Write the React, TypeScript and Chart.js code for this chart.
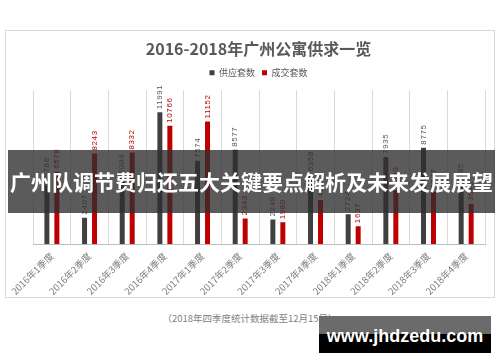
import React, { useEffect, useRef } from "react";
import { Chart, registerables } from "chart.js";

Chart.register(...registerables);

const chartTitle = "2016-2018年广州公寓供求一览";
const categories = [
  "2016年1季度",
  "2016年2季度",
  "2016年3季度",
  "2016年4季度",
  "2017年1季度",
  "2017年2季度",
  "2017年3季度",
  "2017年4季度",
  "2018年1季度",
  "2018年2季度",
  "2018年3季度",
  "2018年4季度",
];
const supplyName = "供应套数";
const dealName = "成交套数";
const supplyValues = [5786, 2407, 6084, 11991, 7574, 8577, 2248, 6358, 2724, 7935, 8775, 5285];
const dealValues = [6578, 8243, 8332, 10766, 11152, 2343, 1980, 4021, 1637, 4930, 4747, 3646];
const yMax = 14000;
const bannerText = "广州队调节费归还五大关键要点解析及未来发展展望";
const footnote = "（2018年四季度统计数据截至12月15日）";
const siteText = "www.jhdzedu.com";

const SUPPLY_COLOR = "#404040";
const DEAL_COLOR = "#c00000";

const valueLabels = {
  id: "valueLabels",
  afterDatasetsDraw(chart: any) {
    const ctx = chart.ctx;
    chart.data.datasets.forEach((ds: any, i: number) => {
      const meta = chart.getDatasetMeta(i);
      meta.data.forEach((el: any, j: number) => {
        const v = ds.data[j];
        ctx.save();
        ctx.translate(el.x, el.y - 3);
        ctx.rotate(-Math.PI / 2);
        ctx.font = "8px 'Liberation Sans', Arial, sans-serif";
        (ctx as any).letterSpacing = "0.6px";
        ctx.fillStyle = ds.labelColor;
        ctx.textAlign = "left";
        ctx.textBaseline = "middle";
        ctx.fillText(String(v), 0, 0);
        ctx.restore();
      });
    });
  },
};

const legendGap = {
  id: "legendGap",
  beforeInit(chart: any) {
    const legend = chart.legend;
    if (!legend) return;
    const fit = legend.fit;
    legend.fit = function () {
      fit.call(this);
      this.height += 3;
    };
  },
};

function BarChart() {
  const ref = useRef<HTMLCanvasElement | null>(null);
  useEffect(() => {
    if (!ref.current) return;
    const chart = new Chart(ref.current, {
      type: "bar",
      data: {
        labels: categories,
        datasets: [
          {
            label: supplyName,
            data: supplyValues,
            backgroundColor: SUPPLY_COLOR,
            labelColor: "#595959",
            categoryPercentage: 0.53,
            barPercentage: 0.5,
          } as any,
          {
            label: dealName,
            data: dealValues,
            backgroundColor: DEAL_COLOR,
            labelColor: "#c00000",
            categoryPercentage: 0.53,
            barPercentage: 0.5,
          } as any,
        ],
      },
      options: {
        animation: false,
        responsive: false,
        maintainAspectRatio: false,
        layout: { padding: { left: 26, right: 9, top: 0, bottom: -6 } },
        plugins: {
          title: {
            display: true,
            text: chartTitle,
            color: "#595959",
            font: { size: 16, weight: "bold", family: "'Noto Sans CJK SC', sans-serif" },
            padding: { top: 8, bottom: 3 },
          },
          legend: {
            display: true,
            position: "top",
            labels: {
              boxWidth: 5,
              boxHeight: 5,
              color: "#595959",
              font: { size: 9, family: "'Noto Sans CJK SC', sans-serif" },
              padding: 7,
            },
          },
          tooltip: { enabled: false },
        },
        scales: {
          x: {
            offset: true,
            grid: { display: true, offset: true, color: "#d9d9d9", drawTicks: false },
            border: { display: true, color: "#bfbfbf" },
            ticks: {
              minRotation: 45,
              maxRotation: 45,
              color: "#7f7f7f",
              padding: 6,
              font: { size: 9.5, family: "'Noto Sans CJK SC', sans-serif" },
            },
          },
          y: { display: false, min: 0, max: yMax },
        },
      },
      plugins: [legendGap, valueLabels],
    });
    return () => chart.destroy();
  }, []);
  return (
    <canvas
      ref={ref}
      width={488}
      height={266}
      style={{ position: "absolute", left: 6, top: 31, width: 488, height: 266 }}
    />
  );
}

export default function App() {
  return (
    <div
      style={{
        position: "absolute",
        left: 0,
        top: 0,
        width: 500,
        height: 362,
        background: "#ffffff",
        overflow: "hidden",
        fontFamily: "'Noto Sans CJK SC', sans-serif",
      }}
    >
      <div
        style={{
          position: "absolute",
          left: 5,
          top: 30,
          width: 490,
          height: 268,
          boxSizing: "border-box",
          border: "1px solid #d9d9d9",
        }}
      />
      <BarChart />
      <div
        style={{
          position: "absolute",
          left: 8,
          top: 150,
          width: 487,
          height: 63,
          background: "rgba(45,45,45,0.78)",
          color: "#ffffff",
          fontSize: 21,
          fontWeight: "bold",
          lineHeight: "63px",
          textAlign: "center",
          whiteSpace: "nowrap",
        }}
      >
        {bannerText}
      </div>
      <div
        style={{
          position: "absolute",
          left: 0,
          width: 500,
          top: 310,
          fontSize: 9.5,
          color: "#7f7f7f",
          textAlign: "center",
          lineHeight: "16px",
          whiteSpace: "nowrap",
        }}
      >
        {footnote}
      </div>
      <div
        style={{
          position: "absolute",
          left: 319,
          top: 316,
          width: 172,
          height: 37,
          background: "linear-gradient(#6b6b6b 0, #6b6b6b 50%, #000000 50%, #000000 100%)",
          color: "#ffffff",
          fontFamily: "'Liberation Sans', Arial, sans-serif",
          fontWeight: "bold",
          fontSize: 18,
          lineHeight: "40px",
          textAlign: "center",
          whiteSpace: "nowrap",
        }}
      >
        {siteText}
      </div>
    </div>
  );
}
